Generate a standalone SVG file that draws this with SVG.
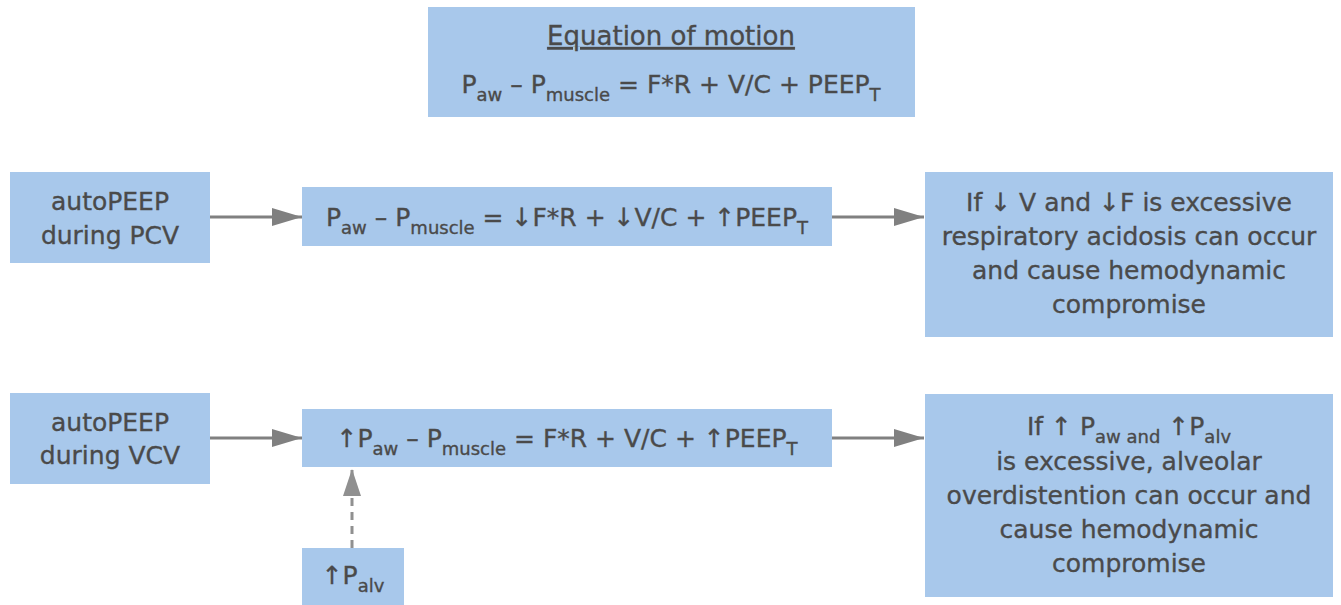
<svg xmlns="http://www.w3.org/2000/svg" width="1341" height="605" viewBox="0 0 1341 605">
<defs>
<style>
.box{fill:#a8c8eb;}
.t{font-family:"DejaVu Sans","Liberation Sans",sans-serif;font-size:25px;fill:#4a4a4a;stroke:#4a4a4a;stroke-width:0.35;text-anchor:middle;}
.s{font-size:18px;}
.conn{stroke:#808080;stroke-width:3;fill:none;}
.dash{stroke:#909090;stroke-width:3;fill:none;stroke-dasharray:8 6;}
</style>
<marker id="ah" markerUnits="userSpaceOnUse" markerWidth="32" markerHeight="20" refX="30" refY="9" orient="auto">
<path d="M0,0 L30,9 L0,18 Z" fill="#808080"/>
</marker>
<marker id="ahd" markerUnits="userSpaceOnUse" markerWidth="30" markerHeight="20" refX="27" refY="9" orient="auto">
<path d="M0,0 L27,9 L0,18 Z" fill="#909090"/>
</marker>
</defs>
<rect width="1341" height="605" fill="#ffffff"/>

<g id="connectors">
<line class="conn" x1="210" y1="217" x2="302" y2="217" marker-end="url(#ah)"/>
<line class="conn" x1="832" y1="217" x2="924" y2="217" marker-end="url(#ah)"/>
<line class="conn" x1="210" y1="438" x2="302" y2="438" marker-end="url(#ah)"/>
<line class="conn" x1="832" y1="438" x2="924" y2="438" marker-end="url(#ah)"/>
<line class="dash" x1="352" y1="548" x2="352" y2="469" marker-end="url(#ahd)"/>
</g>

<g id="equation">
<rect class="box" x="428" y="7" width="487" height="110"/>
<text class="t" x="671" y="45" style="font-size:26px" text-decoration="underline">Equation of motion</text>
<text class="t" x="671" y="93">P<tspan class="s" dy="8">aw</tspan><tspan dy="-8"> – P</tspan><tspan class="s" dy="8">muscle</tspan><tspan dy="-8"> = F*R + V/C + PEEP</tspan><tspan class="s" dy="8">T</tspan></text>
</g>

<g id="pcv">
<rect class="box" x="10" y="172" width="200" height="91"/>
<text class="t" x="110" y="210">autoPEEP</text>
<text class="t" x="110" y="244">during PCV</text>
</g>

<g id="pcv-eq">
<rect class="box" x="302" y="187" width="530" height="59"/>
<text class="t" x="567" y="226">P<tspan class="s" dy="8">aw</tspan><tspan dy="-8"> – P</tspan><tspan class="s" dy="8">muscle</tspan><tspan dy="-8"> = ↓F*R + ↓V/C + ↑PEEP</tspan><tspan class="s" dy="8">T</tspan></text>
</g>

<g id="pcv-result">
<rect class="box" x="925" y="172" width="408" height="165"/>
<text class="t" x="1129" y="211">If ↓ V and ↓F is excessive</text>
<text class="t" x="1129" y="245">respiratory acidosis can occur</text>
<text class="t" x="1129" y="279">and cause hemodynamic</text>
<text class="t" x="1129" y="313">compromise</text>
</g>

<g id="vcv">
<rect class="box" x="10" y="393" width="200" height="91"/>
<text class="t" x="110" y="431">autoPEEP</text>
<text class="t" x="110" y="464">during VCV</text>
</g>

<g id="vcv-eq">
<rect class="box" x="302" y="409" width="530" height="58"/>
<text class="t" x="567" y="447">↑P<tspan class="s" dy="8">aw</tspan><tspan dy="-8"> – P</tspan><tspan class="s" dy="8">muscle</tspan><tspan dy="-8"> = F*R + V/C + ↑PEEP</tspan><tspan class="s" dy="8">T</tspan></text>
</g>

<g id="palv">
<rect class="box" x="302" y="548" width="102" height="57"/>
<text class="t" x="353" y="584">↑P<tspan class="s" dy="8">alv</tspan></text>
</g>

<g id="vcv-result">
<rect class="box" x="925" y="394" width="408" height="203"/>
<text class="t" x="1129" y="435">If ↑ P<tspan class="s" dy="8">aw and</tspan><tspan dy="-8"> ↑P</tspan><tspan class="s" dy="8">alv</tspan></text>
<text class="t" x="1129" y="470">is excessive, alveolar</text>
<text class="t" x="1129" y="504">overdistention can occur and</text>
<text class="t" x="1129" y="538">cause hemodynamic</text>
<text class="t" x="1129" y="572">compromise</text>
</g>
</svg>
